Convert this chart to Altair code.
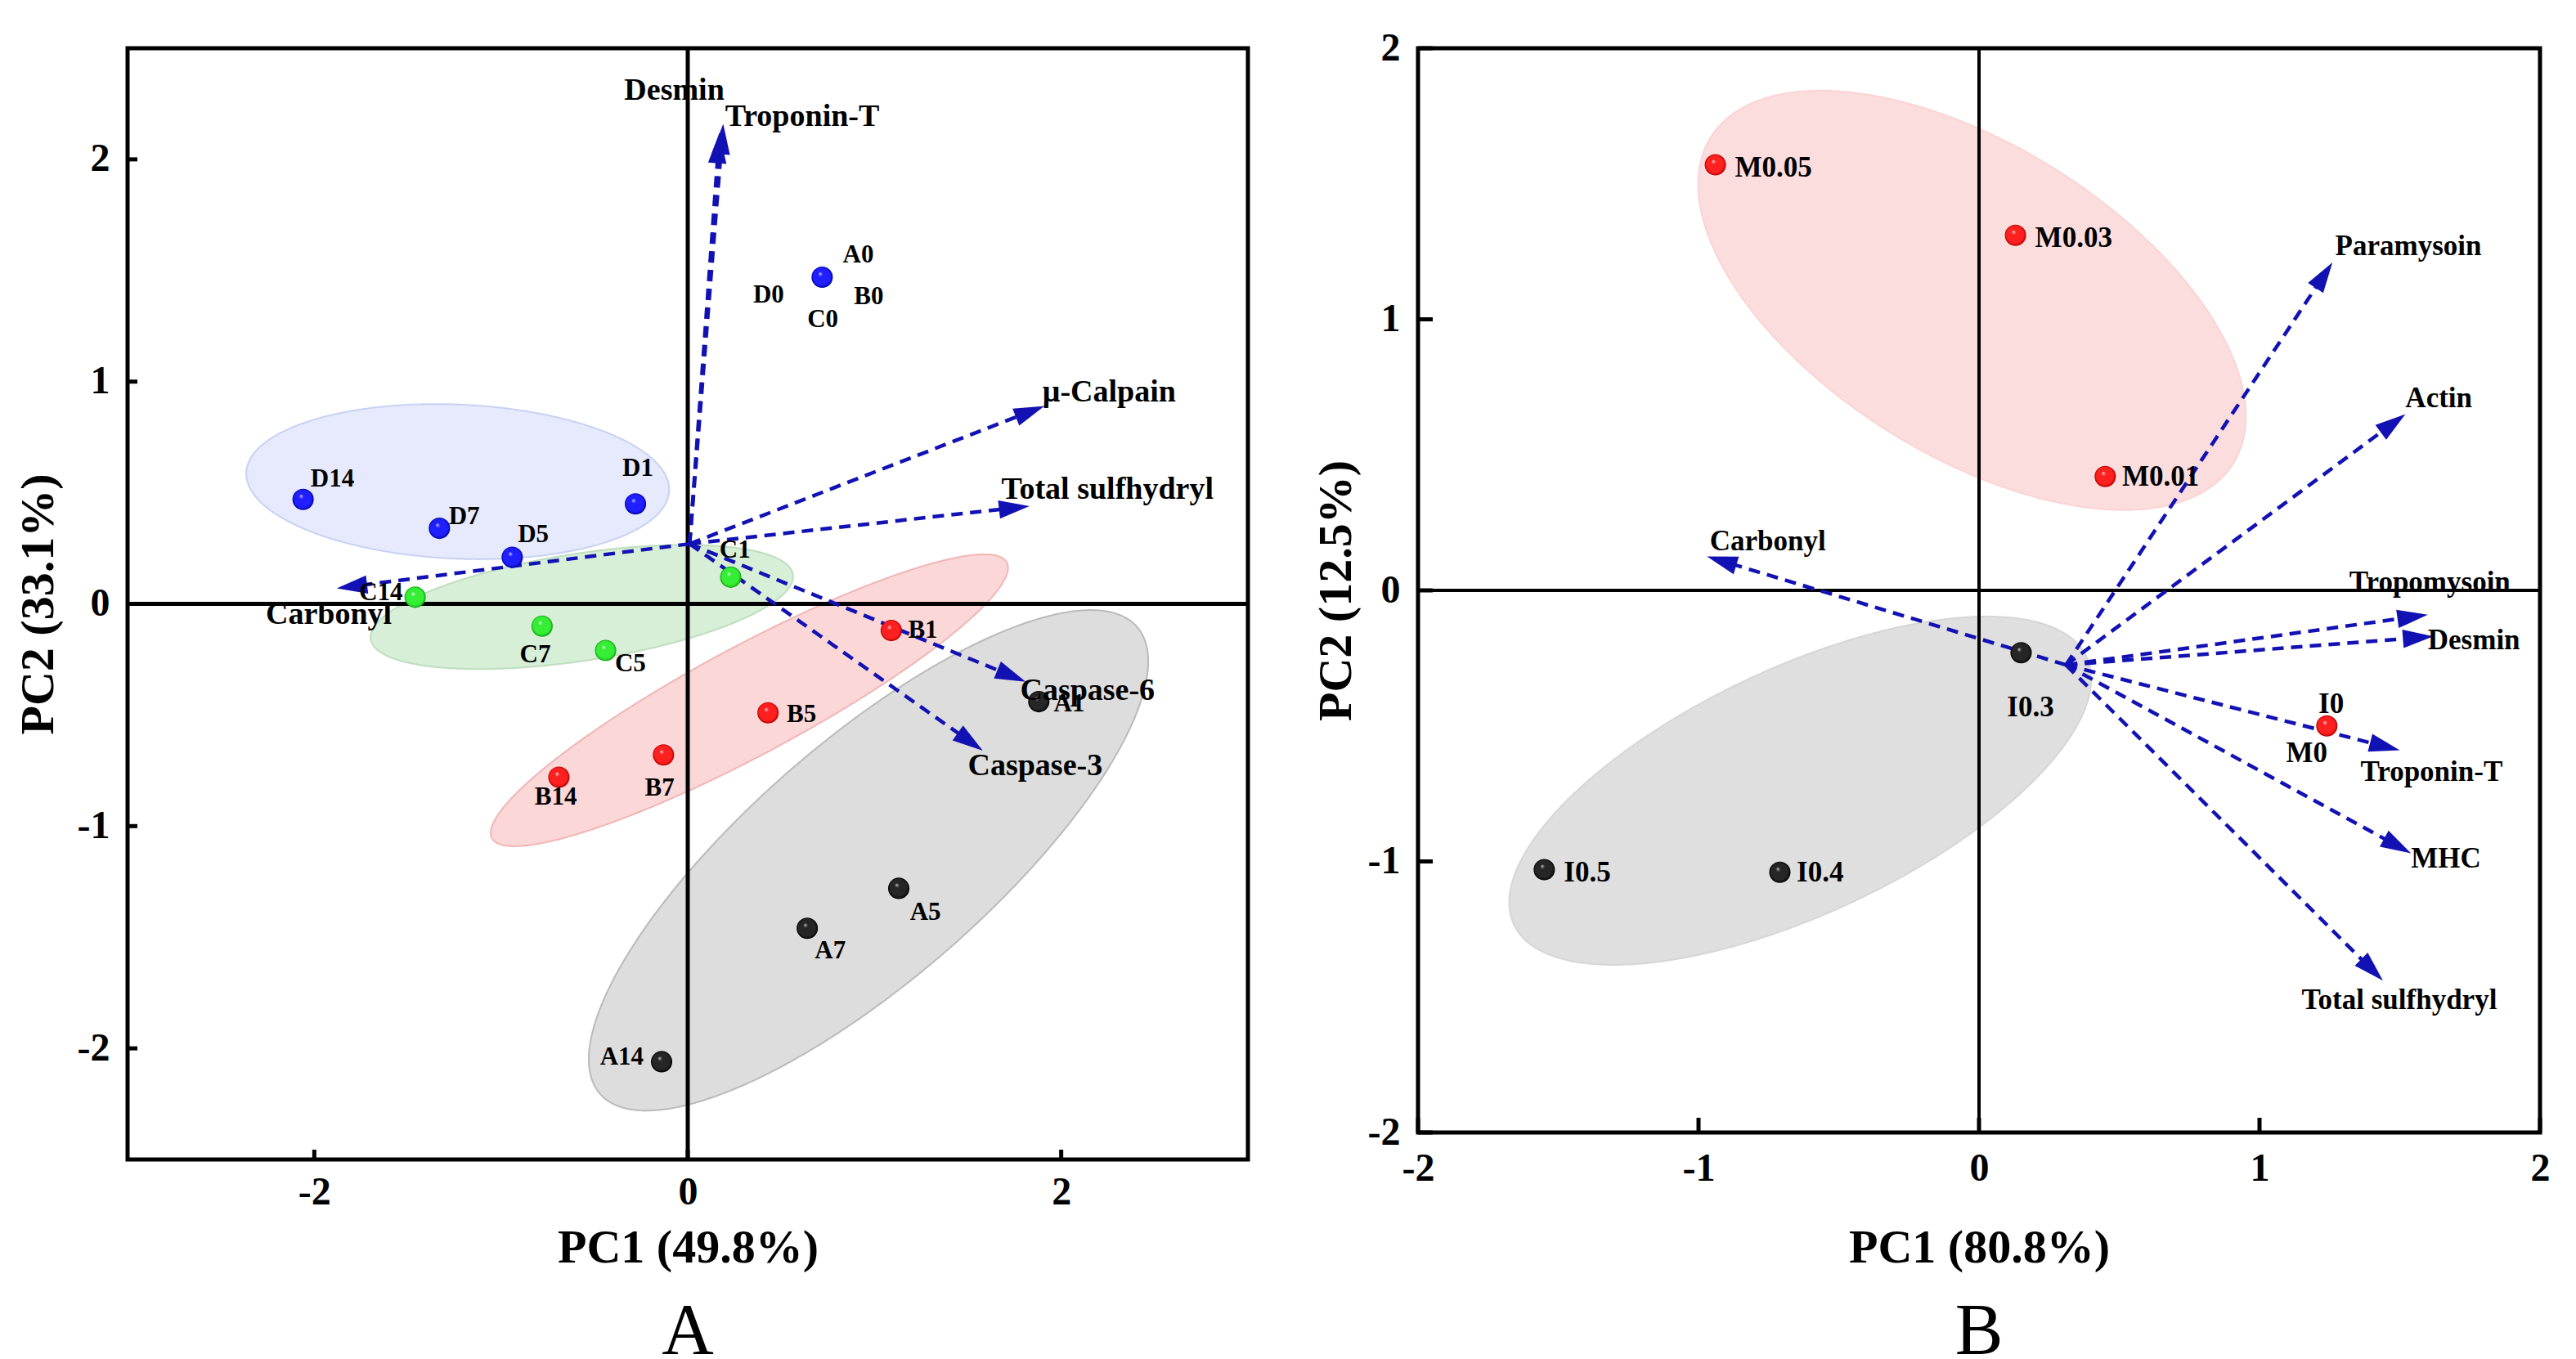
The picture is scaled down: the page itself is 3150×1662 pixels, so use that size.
import math
import numpy as np
import pandas as pd
import altair as alt

FONT = "Liberation Serif"
ARROW_COLOR = "#1212b4"

# ---------------- Panel A data ----------------
A_blue_x = [0.72, -0.28, -0.94, -1.33, -2.06]
A_blue_y = [1.47, 0.45, 0.21, 0.34, 0.47]
A_green_x = [0.23, -0.44, -0.78, -1.46]
A_green_y = [0.12, -0.21, -0.10, 0.03]
A_red_x = [1.09, 0.43, -0.13, -0.69]
A_red_y = [-0.12, -0.49, -0.68, -0.78]
A_black_x = [1.88, 1.13, 0.64, -0.14]
A_black_y = [-0.44, -1.28, -1.46, -2.06]

A_lab_text = ["A0", "B0", "C0", "D0", "D1", "D5", "D7", "D14", "C1", "C5", "C7", "C14",
              "B1", "B5", "B7", "B14", "A1", "A5", "A7", "A14"]
A_lab_x = [0.83, 0.89, 0.64, 0.35, -0.35, -0.91, -1.28, -2.02, 0.17, -0.39, -0.90, -1.76,
           1.18, 0.53, -0.23, -0.82, 1.96, 1.19, 0.68, -0.47]
A_lab_y = [1.57, 1.38, 1.28, 1.39, 0.61, 0.31, 0.39, 0.56, 0.24, -0.27, -0.23, 0.05,
           -0.12, -0.50, -0.83, -0.87, -0.45, -1.39, -1.56, -2.04]

A_var = ["Desmin", "Troponin-T", "μ-Calpain", "Total sulfhydryl", "Caspase-6", "Caspase-3", "Carbonyl"]
A_var_tip_x = [0.17, 0.19, 1.91, 1.83, 1.81, 1.58, -1.88]
A_var_tip_y = [2.12, 2.16, 0.89, 0.44, -0.35, -0.66, 0.07]
A_var_lab_x = [-0.34, 0.20, 1.90, 1.68, 1.78, 1.50, -2.26]
A_var_lab_y = [2.31, 2.19, 0.95, 0.515, -0.39, -0.73, -0.05]
A_origin = [0.01, 0.27]

# ellipses: centre, semi-axes, rotation (deg)
A_ell_cx = [-1.232, -0.567, 0.33, 0.968]
A_ell_cy = [0.55, -0.014, -0.434, -1.154]
A_ell_a = [1.133, 1.14, 1.512, 1.784]
A_ell_b = [0.347, 0.242, 0.252, 0.574]
A_ell_ang = [-2, 7.2, 24, 35]
A_ell_fill = ["#dde3fb", "#c9e8c9", "#f9c9c9", "#d2d2d2"]
A_ell_stroke = ["#c4cdf3", "#b9dcb9", "#efb0b0", "#b5b5b5"]

A_xticks = [-2, 0, 2]
A_yticks = [-2, -1, 0, 1, 2]

# ---------------- Panel B data ----------------
B_red_x = [-0.94, 0.13, 0.45, 1.24]
B_red_y = [1.57, 1.31, 0.42, -0.50]
B_black_x = [0.15, -0.71, -1.55]
B_black_y = [-0.23, -1.04, -1.03]

B_lab_text = ["M0.05", "M0.03", "M0.01", "I0", "M0", "I0.3", "I0.5", "I0.4"]
B_lab_x = [-0.87, 0.20, 0.51, 1.21, 1.095, 0.10, -1.48, -0.65]
B_lab_y = [1.56, 1.30, 0.42, -0.42, -0.60, -0.43, -1.04, -1.04]

B_var = ["Paramysoin", "Actin", "Carbonyl", "Tropomysoin", "Desmin", "Troponin-T", "MHC", "Total sulfhydryl"]
B_var_tip_x = [1.26, 1.52, -0.97, 1.60, 1.62, 1.50, 1.54, 1.44]
B_var_tip_y = [1.21, 0.65, 0.125, -0.09, -0.17, -0.59, -0.97, -1.44]
B_var_lab_x = [1.27, 1.52, -0.96, 1.32, 1.60, 1.36, 1.54, 1.15]
B_var_lab_y = [1.27, 0.71, 0.18, 0.03, -0.185, -0.67, -0.99, -1.51]
B_origin = [0.31, -0.275]

B_ell_cx = [-0.025, -0.6375]
B_ell_cy = [1.07, -0.739]
B_ell_a = [1.109, 1.134]
B_ell_b = [0.5675, 0.451]
B_ell_ang = [-33.5, 26.1]
B_ell_fill = ["#fbd2d2", "#d4d4d4"]
B_ell_stroke = ["#fbd2d2", "#d4d4d4"]

B_xticks = [-2, -1, 0, 1, 2]
B_yticks = [-2, -1, 0, 1, 2]


def ellipse_df(cx, cy, a, b, ang, n=361):
    t = math.radians(ang)
    c, s = math.cos(t), math.sin(t)
    A = c * c / a ** 2 + s * s / b ** 2
    B = 2 * c * s * (1 / a ** 2 - 1 / b ** 2)
    C = s * s / a ** 2 + c * c / b ** 2
    umax = math.sqrt(4 * C / (4 * A * C - B * B))
    u = -umax * np.cos(np.linspace(0, np.pi, n))
    disc = np.clip(B * B * u * u - 4 * C * (A * u * u - 1), 0, None)
    lo = (-B * u - np.sqrt(disc)) / (2 * C)
    hi = (-B * u + np.sqrt(disc)) / (2 * C)
    return pd.DataFrame({"x": cx + u, "lo": cy + lo, "hi": cy + hi})


def sphere(base, dark, hi="#ffffff"):
    return {"gradient": "radial", "x1": 0.4, "y1": 0.33, "r1": 0.0,
            "x2": 0.5, "y2": 0.5, "r2": 0.5,
            "stops": [{"offset": 0.0, "color": hi},
                      {"offset": 0.22, "color": base},
                      {"offset": 0.8, "color": base},
                      {"offset": 1.0, "color": dark}]}


ARROW_PATH = "M0,0L-0.6,2L0.6,2Z"
LBL = "datum.value < 0 ? '-' + abs(datum.value) : '' + datum.value"


def panel(W, H, xdom, ydom, xticks, yticks, xtitle, ytitle, caption,
          groups, labels, lab_size, var_names, tipx, tipy, vlx, vly, var_size, origin,
          ells, tick_len, zero_w, xlab_pad, ylab_pad, xtitle_pad, ytitle_pad):
    sx = W / (xdom[1] - xdom[0])
    sy = H / (ydom[1] - ydom[0])
    xscale = alt.Scale(domain=xdom, nice=False, zero=False)
    yscale = alt.Scale(domain=ydom, nice=False, zero=False)
    xaxis = alt.Axis(values=xticks, ticks=False, domain=False, grid=False, labelExpr=LBL,
                     labelFont=FONT, labelFontWeight="bold", labelFontSize=48, labelColor="black",
                     labelPadding=xlab_pad, labelFlush=False, labelOverlap=False,
                     titleFont=FONT, titleFontWeight="bold", titleFontSize=58, titleColor="black",
                     titlePadding=xtitle_pad)
    yaxis = alt.Axis(values=yticks, ticks=False, domain=False, grid=False, labelExpr=LBL,
                     labelFont=FONT, labelFontWeight="bold", labelFontSize=48, labelColor="black",
                     labelPadding=ylab_pad, labelFlush=False, labelOverlap=False,
                     titleFont=FONT, titleFontWeight="bold", titleFontSize=58, titleColor="black",
                     titlePadding=ytitle_pad)

    def X(f):
        return alt.X(f, type="quantitative", scale=xscale, axis=xaxis, title=xtitle)

    def Y(f):
        return alt.Y(f, type="quantitative", scale=yscale, axis=yaxis, title=ytitle)

    layers = []
    # ellipses
    for (cx, cy, a, b, ang, fill, stroke) in ells:
        df = ellipse_df(cx, cy, a, b, ang)
        layers.append(alt.Chart(df).mark_area(fill=fill, fillOpacity=0.75, stroke=stroke,
                                              strokeWidth=2, strokeOpacity=0.9)
                      .encode(x=X("x"), y=Y("lo"), y2="hi"))
    # zero lines
    z = pd.DataFrame({"z": [0]})
    layers.append(alt.Chart(z).mark_rule(color="black", strokeWidth=zero_w).encode(x=X("z")))
    layers.append(alt.Chart(z).mark_rule(color="black", strokeWidth=zero_w).encode(y=Y("z")))
    # arrows
    rows = []
    for name, tx, ty in zip(var_names, tipx, tipy):
        dxp = (tx - origin[0]) * sx
        dyp = -(ty - origin[1]) * sy
        L = math.hypot(dxp, dyp)
        ex = tx - (dxp / L * 14) / sx
        ey = ty + (dyp / L * 14) / sy
        ang = math.degrees(math.atan2(dxp, -dyp)) % 360
        rows.append({"name": name, "ox": origin[0], "oy": origin[1], "ex": ex, "ey": ey,
                     "tx": tx, "ty": ty, "ang": ang})
    adf = pd.DataFrame(rows)
    layers.append(alt.Chart(adf).mark_rule(color=ARROW_COLOR, strokeWidth=4.5, strokeDash=[14, 9])
                  .encode(x=X("ox"), y=Y("oy"), x2="ex", y2="ey"))
    layers.append(alt.Chart(adf).mark_point(shape=ARROW_PATH, filled=True, fill=ARROW_COLOR,
                                            size=1400, opacity=1, strokeWidth=0)
                  .encode(x=X("tx"), y=Y("ty"), angle=alt.Angle("ang:Q", scale=None)))
    # points
    for (gx, gy, grad) in groups:
        gdf = pd.DataFrame({"x": gx, "y": gy})
        layers.append(alt.Chart(gdf).mark_circle(size=680, fill=grad, opacity=1, strokeWidth=0)
                      .encode(x=X("x"), y=Y("y")))
    # point labels
    ldf = pd.DataFrame({"t": labels[0], "x": labels[1], "y": labels[2]})
    layers.append(alt.Chart(ldf).mark_text(align="left", baseline="middle", font=FONT,
                                           fontWeight="bold", fontSize=lab_size, color="black")
                  .encode(x=X("x"), y=Y("y"), text="t:N"))
    # variable labels
    vdf = pd.DataFrame({"t": var_names, "x": vlx, "y": vly})
    layers.append(alt.Chart(vdf).mark_text(align="left", baseline="middle", font=FONT,
                                           fontWeight="bold", fontSize=var_size, color="black")
                  .encode(x=X("x"), y=Y("y"), text="t:N"))
    # inward ticks
    xt = pd.DataFrame({"t": xticks})
    yt = pd.DataFrame({"t": yticks})
    layers.append(alt.Chart(xt).mark_rule(color="black", strokeWidth=5)
                  .encode(x=X("t"), y=alt.value(H), y2=alt.value(H - tick_len)))
    layers.append(alt.Chart(yt).mark_rule(color="black", strokeWidth=5)
                  .encode(y=Y("t"), x=alt.value(0), x2=alt.value(tick_len)))

    return alt.layer(*layers).properties(
        width=W, height=H,
        title=alt.TitleParams(text=caption, orient="bottom", anchor="middle", font=FONT,
                              fontSize=88, fontWeight="normal", color="black", offset=30))


chartA = panel(
    1370, 1359, [-3, 3], [-2.5, 2.5], A_xticks, A_yticks, "PC1 (49.8%)", "PC2 (33.1%)", "A",
    [(A_blue_x, A_blue_y, sphere("#1f1fff", "#0000a0", "#d0d0ff")),
     (A_green_x, A_green_y, sphere("#35ee35", "#10a010", "#e0ffe0")),
     (A_red_x, A_red_y, sphere("#ff2020", "#b00000", "#ffd8d8")),
     (A_black_x, A_black_y, sphere("#262626", "#000000", "#c0c0c0"))],
    (A_lab_text, A_lab_x, A_lab_y), 31,
    A_var, A_var_tip_x, A_var_tip_y, A_var_lab_x, A_var_lab_y, 38, A_origin,
    list(zip(A_ell_cx, A_ell_cy, A_ell_a, A_ell_b, A_ell_ang, A_ell_fill, A_ell_stroke)),
    12, 5, 16, 22, 15, 18)

chartB = panel(
    1372, 1326, [-2, 2], [-2, 2], B_xticks, B_yticks, "PC1 (80.8%)", "PC2 (12.5%)", "B",
    [(B_red_x, B_red_y, sphere("#ff2020", "#b00000", "#ffd8d8")),
     (B_black_x, B_black_y, sphere("#262626", "#000000", "#c0c0c0"))],
    (B_lab_text, B_lab_x, B_lab_y), 35,
    B_var, B_var_tip_x, B_var_tip_y, B_var_lab_x, B_var_lab_y, 35, B_origin,
    list(zip(B_ell_cx, B_ell_cy, B_ell_a, B_ell_b, B_ell_ang, B_ell_fill, B_ell_stroke)),
    18, 4, 20, 22, 44, 9)

chart = alt.hconcat(chartA, chartB, spacing=208, bounds="flush").properties(
    padding={"left": 15, "top": 32, "right": 10, "bottom": 6},
    background="white",
).configure_view(stroke="black", strokeWidth=5)

chart.save("out.html", embed_options={"renderer": "svg", "actions": False})
